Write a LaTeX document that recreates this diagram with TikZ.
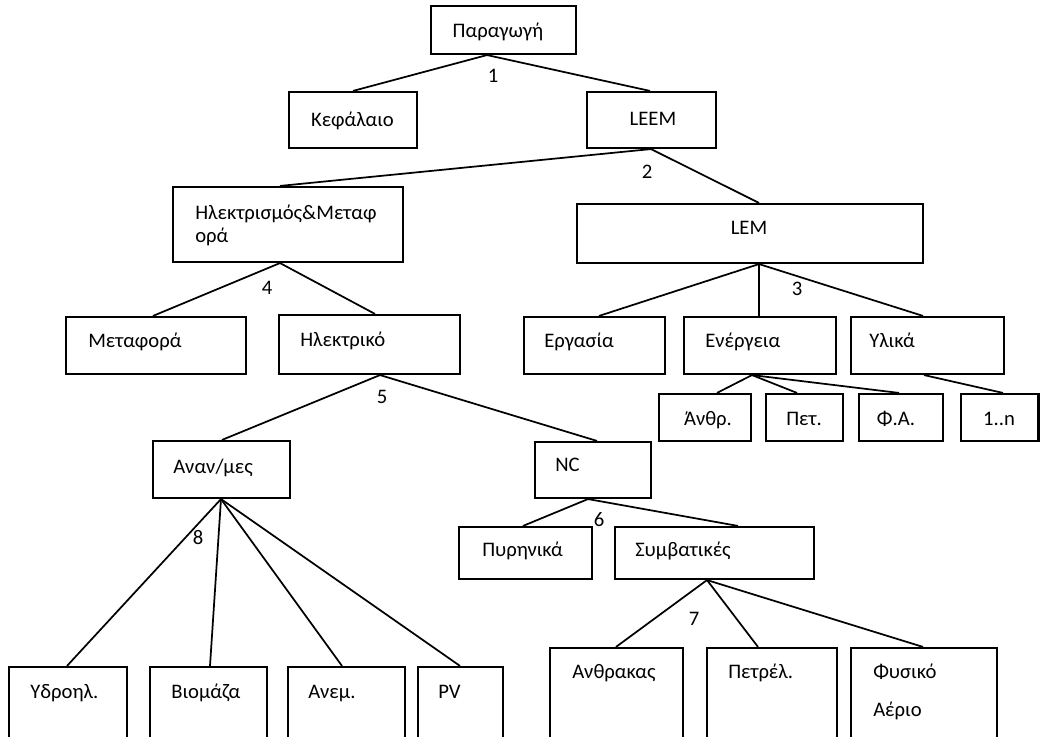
\documentclass[tikz,border=0pt]{standalone}
\usepackage{fontspec}
\setmainfont{Carlito}
\usetikzlibrary{fit}
\begin{document}
\begin{tikzpicture}[x=0.75pt,y=-0.75pt,
  box/.style={draw, line width=1.6pt, inner sep=0pt},
  link/.style={line width=1.3pt},
  txt/.style={inner sep=0pt, font=\fontsize{15.5}{18}\selectfont},
  tl/.style={txt, anchor=base west},
  tc/.style={txt, anchor=base},
  num/.style={txt, anchor=center}]
\clip (0,0) rectangle (1040,737);
\fill[white] (0,0) rectangle (1040,737);

% ---- boxes ----
\node[box, fit={(431,6) (576,54)}]    (par) {};
\node[box, fit={(289,92) (417,148)}]  (kef) {};
\node[box, fit={(587,92) (716,148)}]  (leem) {};
\node[box, fit={(173,187) (403,262)}] (hm) {};
\node[box, fit={(577,204) (923,263)}] (lem) {};
\node[box, fit={(66,317) (246,374)}]  (meta) {};
\node[box, fit={(279,315) (460,374)}] (elec) {};
\node[box, fit={(524,317) (665,374)}] (erg) {};
\node[box, fit={(684,317) (836,374)}] (ene) {};
\node[box, fit={(851,317) (1004,374)}] (yli) {};
\node[box, fit={(659,394) (751,441)}] (anth) {};
\node[box, fit={(766,394) (843,441)}] (pet) {};
\node[box, fit={(859,394) (943,441)}] (fa) {};
\node[box, fit={(961,394) (1038.5,441)}] (onen) {};
\node[box, fit={(153,441) (290,498)}] (anan) {};
\node[box, fit={(535,442) (651,498)}] (nc) {};
\node[box, fit={(459,527) (592,579)}] (pyr) {};
\node[box, fit={(615,527) (814,579)}] (symv) {};
\node[box, fit={(9,667) (127,760)}]   (ydro) {};
\node[box, fit={(150,667) (267,760)}] (viom) {};
\node[box, fit={(288,667) (405,760)}] (anem) {};
\node[box, fit={(418,667) (503,760)}] (pv) {};
\node[box, fit={(550,648) (683,760)}] (anthr) {};
\node[box, fit={(707,648) (837,760)}] (petrel) {};
\node[box, fit={(851,648) (997,760)}] (fysiko) {};

% ---- box texts ----
\node[tc] (parT)  at (498,37.7)  {Παραγωγή};
\node[tc] (kefT)  at (352.5,127) {Κεφάλαιο};
\node[tc] (leemT) at (653,126)   {LEEM};
\node[tl] (hmTa)  at (195,219.3) {Ηλεκτρισμός\&Μεταφ};
\node[tl] (hmTb)  at (195,243)   {ορά};
\node[tc] (lemT)  at (749,235)   {LEM};
\node[tl] (metaT) at (88,347.7)  {Μεταφορά};
\node[tl] (elecT) at (300,346.7) {Ηλεκτρικό};
\node[tl] (ergT)  at (544,348)   {Εργασία};
\node[tl] (eneT)  at (705,348)   {Ενέργεια};
\node[tl] (yliT)  at (869,348)   {Υλικά};
\node[tc] (anthT) at (708,426)   {Άνθρ.};
\node[tc] (petT)  at (804,426)   {Πετ.};
\node[tc] (faT)   at (896,426)   {Φ.Α.};
\node[tc] (onenT) at (999,426)   {1..n};
\node[tl] (ananT) at (173,474)   {Αναν/μες};
\node[tl] (ncT)   at (555,472)   {NC};
\node[tl] (pyrT)  at (482,557)   {Πυρηνικά};
\node[tl] (symvT) at (635,557)   {Συμβατικές};
\node[tl] (ydroT) at (30,699)    {Υδροηλ.};
\node[tl] (viomT) at (171,699)   {Βιομάζα};
\node[tl] (anemT) at (308,699)   {Ανεμ.};
\node[tl] (pvT)   at (438,699)   {PV};
\node[tl] (anthrT) at (572,679)  {Ανθρακας};
\node[tl] (petrelT) at (728,679) {Πετρέλ.};
\node[tl] (fysTa) at (873,679)   {Φυσικό};
\node[tl] (fysTb) at (873,717)   {Αέριο};

% ---- branch numbers ----
\node[num] (n1) at (493,76)  {1};
\node[num] (n2) at (647,172) {2};
\node[num] (n3) at (797,289) {3};
\node[num] (n4) at (267,288) {4};
\node[num] (n5) at (382,397) {5};
\node[num] (n6) at (599,520) {6};
\node[num] (n7) at (694,619) {7};
\node[num] (n8) at (198,538) {8};

% ---- connectors ----
\draw[link] (par.south -| 487,0) -- (kef.north -| 353,0);
\draw[link] (par.south -| 487,0) -- (leem.north -| 650,0);
\draw[link] (leem.south -| 651,0) -- (hm.north -| 280,0);
\draw[link] (leem.south -| 651,0) -- (lem.north -| 759,0);
\draw[link] (hm.south -| 280,0) -- (meta.north -| 153,0);
\draw[link] (hm.south -| 280,0) -- (elec.north -| 375,0);
\draw[link] (lem.south -| 759,0) -- (erg.north -| 599,0);
\draw[link] (lem.south -| 759,0) -- (ene.north -| 759,0);
\draw[link] (lem.south -| 759,0) -- (yli.north -| 923,0);
\draw[link] (ene.south -| 752,0) -- (anth.north -| 717,0);
\draw[link] (ene.south -| 752,0) -- (pet.north -| 797,0);
\draw[link] (ene.south -| 752,0) -- (fa.north -| 899,0);
\draw[link] (yli.south -| 924,0) -- (onen.north -| 1003,0);
\draw[link] (elec.south -| 380,0) -- (anan.north -| 222,0);
\draw[link] (elec.south -| 380,0) -- (nc.north -| 597,0);
\draw[link] (nc.south -| 588,0) -- (pyr.north -| 523,0);
\draw[link] (nc.south -| 588,0) -- (symv.north -| 738,0);
\draw[link] (symv.south -| 707,0) -- (anthr.north -| 616,0);
\draw[link] (symv.south -| 707,0) -- (petrel.north -| 758,0);
\draw[link] (symv.south -| 707,0) -- (fysiko.north -| 923,0);
\draw[link] (anan.south -| 221,0) -- (ydro.north -| 67,0);
\draw[link] (anan.south -| 221,0) -- (viom.north -| 210,0);
\draw[link] (anan.south -| 221,0) -- (anem.north -| 342,0);
\draw[link] (anan.south -| 221,0) -- (pv.north -| 460,0);
\end{tikzpicture}
\end{document}
